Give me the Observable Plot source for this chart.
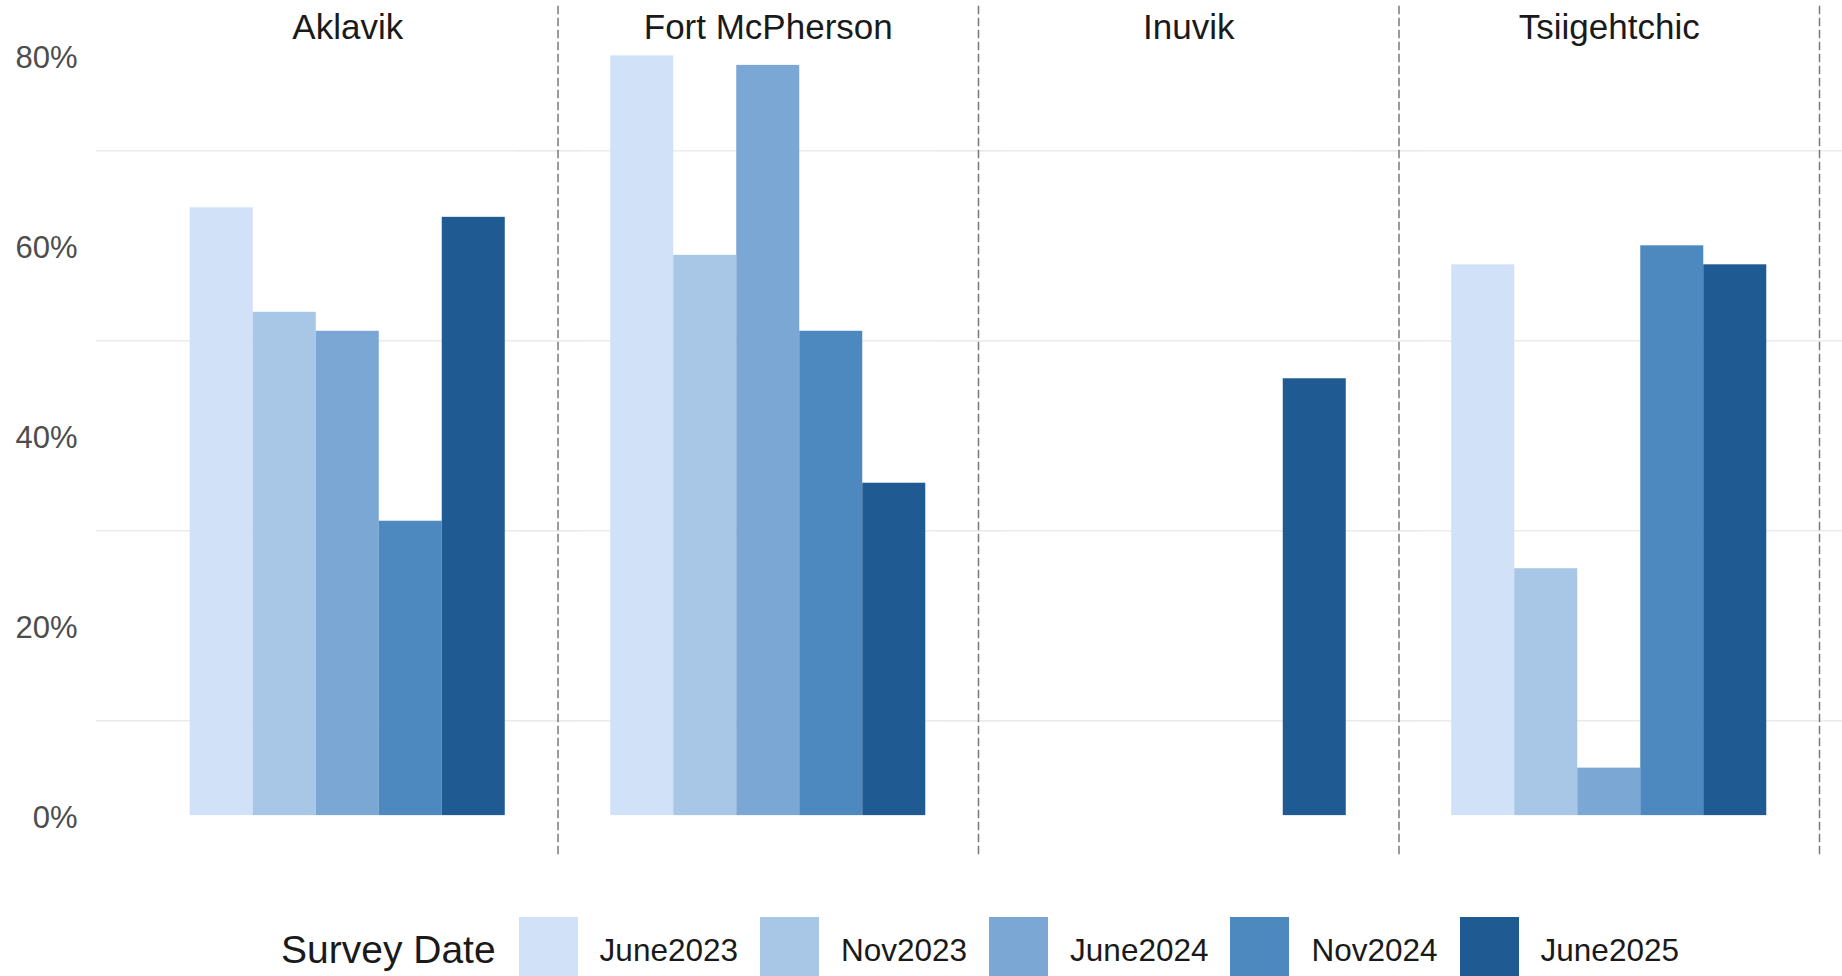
<!DOCTYPE html>
<html>
<head>
<meta charset="utf-8">
<script src="https://cdn.jsdelivr.net/npm/d3@7"></script>
<script src="https://cdn.jsdelivr.net/npm/@observablehq/plot@0.6"></script>
<style>
  html, body { margin: 0; padding: 0; background: #fff; overflow: hidden; }
  #chart { position: relative; width: 1842px; height: 976px; font-family: "Liberation Sans", Arial, sans-serif; }
  #chart svg { display: block; }
  #legend { position: absolute; left: 281px; top: 917px; height: 59px; display: flex; align-items: center; white-space: nowrap; }
  #legend .title { font-size: 39px; color: #1a1a1a; margin-right: 23px; position: relative; top: 3px; }
  #legend .sw { width: 59px; height: 59px; margin-right: 22px; flex: none; }
  #legend .lab { font-size: 31.5px; color: #1a1a1a; margin-right: 22px; position: relative; top: 4px; }
</style>
</head>
<body>
<div id="chart"></div>
<script>
const places = ["Aklavik", "Fort McPherson", "Inuvik", "Tsiigehtchic"];
const dates = ["June2023", "Nov2023", "June2024", "Nov2024", "June2025"];
const colors = ["#d1e1f8", "#a8c7e7", "#7ba7d4", "#4d88bf", "#205a93"];
const aklavik = [64, 53, 51, 31, 63];
const fortMcPherson = [80, 59, 79, 51, 35];
const inuvik = [null, null, null, null, 46];
const tsiigehtchic = [58, 26, 5, 60, 58];
const yTicks = [0, 20, 40, 60, 80];
const gridTicks = [10, 30, 50, 70];
const legendTitle = "Survey Date";

const series = [aklavik, fortMcPherson, inuvik, tsiigehtchic];
const rows = places.flatMap((place, i) =>
  dates.map((date, j) => ({place, date, value: series[i][j]})).filter(d => d.value != null)
);

const plot = Plot.plot({
  width: 1842,
  height: 880,
  marginLeft: 137,
  marginRight: 23,
  marginTop: 6,
  marginBottom: 25,
  style: {fontFamily: '"Liberation Sans", Arial, sans-serif', background: "transparent"},
  fx: {domain: places, padding: 0, round: false, axis: null},
  x: {domain: dates, paddingInner: 0, paddingOuter: 0.837, round: false, axis: null},
  y: {domain: [-4.2, 85.2], axis: null},
  color: {domain: dates, range: colors},
  marks: [
    Plot.ruleY(gridTicks, {y: d => d, stroke: "#ebebeb", strokeWidth: 1.5, insetLeft: -41, insetRight: -23}),
    Plot.barY(rows, {fx: "place", x: "date", y: "value", fill: "date"}),
    Plot.frame({anchor: "right", stroke: "#7a7a7a", strokeWidth: 1.5, strokeDasharray: "7,5"}),
    Plot.text(places, {fx: d => d, text: d => d, frameAnchor: "top", dy: 8, fontSize: 35, fill: "#1a1a1a"}),
    Plot.axisY({anchor: "left", label: null, ticks: yTicks, tickFormat: d => d + "%", tickSize: 0, tickPadding: 60, dy: 2, fontSize: 31, color: "#4d4d4d", fill: "#4d4d4d"})
  ]
});

const chart = document.getElementById("chart");
chart.appendChild(plot);

const legend = document.createElement("div");
legend.id = "legend";
const t = document.createElement("span");
t.className = "title";
t.textContent = legendTitle;
legend.appendChild(t);
const cscale = plot.scale("color");
dates.forEach(d => {
  const sw = document.createElement("span");
  sw.className = "sw";
  sw.style.background = cscale.apply(d);
  legend.appendChild(sw);
  const lab = document.createElement("span");
  lab.className = "lab";
  lab.textContent = d;
  legend.appendChild(lab);
});
chart.appendChild(legend);
</script>
</body>
</html>
